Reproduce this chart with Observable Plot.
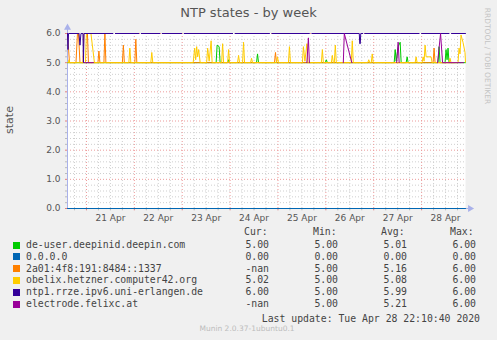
<!DOCTYPE html>
<html><head><meta charset="utf-8">
<script src="https://cdn.jsdelivr.net/npm/d3@7"></script>
<script src="https://cdn.jsdelivr.net/npm/@observablehq/plot@0.6"></script>
<style>
html,body{margin:0;padding:0;}
body{background:#f0f0f0;width:497px;height:340px;overflow:hidden;position:relative;font-family:"DejaVu Sans",sans-serif;}
#chart{position:absolute;left:0;top:0;}
.t{position:absolute;white-space:pre;line-height:12px;}
.mono{font-family:"DejaVu Sans Mono",monospace;font-size:9.8px;color:#444;}
.sw{position:absolute;width:7px;height:7px;}
</style></head><body>
<div id="chart"></div>
<script>
// ---------- text ----------
const title = "NTP states - by week";
const yLabel = "state";
const sideText = "RRDTOOL / TOBI OETIKER";
const lastUpdate = "Last update: Tue Apr 28 22:10:40 2020";
const footer = "Munin 2.0.37-1ubuntu0.1";

// ---------- axes ----------
// time is given in hours relative to 2020-04-21 00:00 (UTC used throughout)
const xStartHour = -9.5, xEndHour = 190;
const dayLabels = ["21 Apr","22 Apr","23 Apr","24 Apr","25 Apr","26 Apr","27 Apr","28 Apr"];
const yTicks = [0,1,2,3,4,5,6];

// ---------- series (hour, value); null = no data ----------
const seriesNames = ["de-user.deepinid.deepin.com","0.0.0.0","2a01:4f8:191:8484::1337","obelix.hetzner.computer42.org","ntp1.rrze.ipv6.uni-erlangen.de","electrode.felixc.at"];
const seriesColors = ["#00CC00","#0066B3","#FF8000","#FFCC00","#330099","#990099"];
const curVals = ["5.00","0.00","-nan","5.02","6.00","-nan"];
const minVals = ["5.00","0.00","5.00","5.00","5.00","5.00"];
const avgVals = ["5.01","0.00","5.16","5.08","5.99","5.21"];
const maxVals = ["6.00","0.00","6.00","6.00","6.00","6.00"];

const deUser = [[-9.5,5],[65,5],[65.5,5.6],[66.5,5.55],[67,5],[70.75,5],[71.25,5.1],[71.75,5],[85.25,5],[85.75,5.3],[86.25,5],[119.75,5],[120.25,5.1],[120.75,5],[154.25,5],[154.75,5.45],[155.25,5.05],[156.25,5.55],[157.25,5.7],[157.75,5],[160.25,5],[160.75,5.2],[161.25,5],[176.25,5],[176.75,5.55],[177.25,5],[179.75,5],[180.25,5.45],[180.75,5.1],[181.25,5.5],[181.75,5],[190,5]];
const zeroAddr = [[-9.5,0],[190,0]];
const addr2a01 = [[-9.5,6],[-9,5.5],[-8.5,5],[-5.25,5],[-4.5,6],[-4,6],[-3.25,5],[-1.75,5],[-1.25,6],[0.5,6],[1,5],[5.75,5],[6.25,5.4],[6.75,5],[8.75,5],[9.25,6],[9.75,5],[18,5],[18.5,5.6],[19,5],[24.25,5],[24.75,5.8],[25.25,5],[94.25,5],[94.75,5.35],[95.25,5],[173.75,5],[174.25,5.5],[174.75,5],[184,5]];
const obelix = [[-9.5,5],[-9,5],[-8.75,5.1],[-8.5,5],[-0.5,5],[0,6],[2.25,6],[4,5],[21.25,5],[21.75,5.5],[22.25,5],[32.25,5],[32.75,5.35],[33.25,5],[53.5,5],[54.25,5.5],[54.75,5.1],[55.25,5.55],[55.75,5.2],[56.25,5.45],[57,5],[60.25,5],[60.75,5.5],[61.5,5.05],[62.5,5.75],[63,5],[67.75,5],[68.25,5.65],[68.75,5],[70.75,5],[71.25,5.45],[71.75,5],[75.75,5],[76.25,5.25],[76.75,5],[78.25,5],[78.75,5.7],[79.25,5],[82.25,5],[82.75,5.15],[83.25,5],[95.25,5],[95.75,5.2],[96.25,5],[101.25,5],[101.75,5.55],[102.25,5],[108.25,5],[108.75,5.55],[109.5,5.05],[110.5,5.65],[111,5],[117.75,5],[118.25,5.45],[118.75,5],[122.75,5],[123.25,5.25],[123.75,5],[124.25,5],[124.75,5.6],[125.25,5],[132.75,5],[133.25,5.75],[133.75,5],[141,5],[141.5,5.1],[142,5],[142.75,5],[143.25,5.3],[143.75,5],[164.75,5],[165.25,5.2],[165.75,5],[168.25,5],[168.75,5.2],[169.25,5.05],[169.75,5.6],[170.25,5.2],[172.75,5.2],[173.25,5],[181.75,5],[182.25,5.15],[182.75,5],[186.25,5],[186.75,5.5],[187.25,5.3],[187.75,5.95],[188.75,5.7],[189.75,5.35],[190,5.02]];
const ntp1 = [[-9.5,6],[-9.25,5.45],[-9,6],[-3.75,6],[-3.25,5.6],[-2.75,6],[-1.75,6],[-1.5,5],[-1.25,6],[13.25,6],[13.75,null],[14.5,6],[26.25,6],[26.75,null],[27.5,6],[36.75,6],[37.25,null],[38,6],[47.75,6],[48.25,null],[49,6],[73.25,6],[73.75,null],[74.5,6],[91.75,6],[92.25,null],[93,6],[111.75,6],[112.25,null],[113,6],[136.75,6],[137,5.65],[137.25,5.65],[137.5,6],[138.5,6],[138.75,null],[139.5,6],[166.75,6],[167.25,null],[168,6],[181.75,6],[182.25,null],[183,6],[190,6]];
const electrode = [[-1.25,5],[3.5,5],[3.75,null],[110.5,5],[111.25,5.85],[111.75,5],[112.25,null],[128.75,5],[129.25,6],[133,5],[133.5,null],[155.5,5],[156.25,5.7],[156.75,5],[157.25,null],[176,5],[177.5,6],[178.5,5],[189,5],[189.5,null]];
const seriesData = [deUser, zeroAddr, addr2a01, obelix, ntp1, electrode];

// ---------- drawing ----------
const H0 = Date.UTC(2020,3,21,0,0);
const toDate = h => new Date(H0 + h*3600e3);
const xStart = toDate(xStartHour), xEnd = toDate(xEndHour);
const majorX = d3.range(0, 8).map(d => toDate(d*24));
const minorX = d3.range(-6, 190, 6).filter(h => h % 24 !== 0 && h > xStartHour).map(toDate);
const labelX = dayLabels.map((_, i) => toDate(i*24 + 12));
const minorY = d3.range(1, 30).map(d => d/5).filter(v => Math.abs(v - Math.round(v)) > 1e-6);
const axisCol = "#a9b1ea";

const marks = [
  Plot.frame({fill: "white", stroke: "none"}),
  Plot.ruleY(minorY, {x1: xStart, x2: xEnd, stroke: "#cfcfcf", strokeDasharray: "1,2"}),
  Plot.ruleX(minorX, {y1: 0, y2: 6, stroke: "#cfcfcf", strokeDasharray: "1,2"}),
  Plot.ruleY(yTicks, {x1: xStart, x2: xEnd, stroke: "#ec9a9a", strokeDasharray: "1,2"}),
  Plot.ruleX(majorX, {y1: 0, y2: 6, stroke: "#ec9a9a", strokeDasharray: "1,2"}),
  // axis tick marks
  Plot.ruleX(minorX, {y1: 0, y2: -0.08, stroke: "#bbbbbb"}),
  Plot.ruleX(majorX, {y1: 0, y2: -0.08, stroke: "#e08080"}),
  Plot.ruleY(minorY, {x1: toDate(xStartHour - 1), x2: xStart, stroke: "#bbbbbb"}),
  Plot.ruleY(yTicks, {x1: toDate(xStartHour - 1), x2: xStart, stroke: "#e08080"}),
  // axis lines and arrows
  Plot.ruleX([xStart], {y1: 0, y2: 6.15, stroke: axisCol}),
  Plot.ruleY([0], {x1: xStart, x2: toDate(xEndHour + 1.5), stroke: axisCol}),
  Plot.dot([0], {x: () => xStart, y: () => 6.2, symbol: "triangle", r: 2.6, fill: axisCol, stroke: "none"}),
  Plot.dot([0], {x: () => toDate(xEndHour + 2.3), y: () => 0, symbol: "triangle", r: 2.6, rotate: 90, fill: axisCol, stroke: "none"}),
  // tick labels
  Plot.text(yTicks, {x: () => xStart, y: d => d, text: d => d.toFixed(1), dx: -7, textAnchor: "end", fill: "#555", fontSize: 9}),
  Plot.text(dayLabels, {x: (d, i) => labelX[i], y: () => 0, text: d => d, dy: 10, fill: "#555", fontSize: 9})
];
seriesData.forEach((s, i) => {
  marks.push(Plot.line(s, {x: d => toDate(d[0]), y: d => d[1], stroke: seriesColors[i], strokeWidth: 1}));
});

const chart = Plot.plot({
  width: 497, height: 228,
  marginLeft: 67, marginRight: 32, marginTop: 33, marginBottom: 20,
  x: {type: "utc", domain: [xStart, xEnd], axis: null},
  y: {domain: [0, 6], axis: null},
  style: {background: "transparent", fontFamily: "DejaVu Sans", overflow: "visible"},
  marks
});
document.getElementById("chart").appendChild(chart);

// ---------- html texts ----------
function addText(txt, css, cls) {
  const d = document.createElement("div");
  d.className = "t" + (cls ? " " + cls : "");
  d.textContent = txt;
  Object.assign(d.style, css);
  document.body.appendChild(d);
  return d;
}
addText(title, {left: "0px", width: "497px", textAlign: "center", top: "5px", fontSize: "13px", color: "#555", lineHeight: "16px"});
addText(yLabel, {left: "10px", top: "120px", fontSize: "11px", color: "#555", transform: "translate(-50%,-50%) rotate(-90deg)", lineHeight: "12px"});
addText(sideText, {left: "487px", top: "56px", fontSize: "7.5px", color: "#c4c4c4", transform: "translate(-50%,-50%) rotate(90deg)", lineHeight: "9px"});

const rowY0 = 245, rowStep = 11.8;
const valRight = [269, 338, 407, 476];
const headLeft = [244, 313, 381, 450];
["Cur:","Min:","Avg:","Max:"].forEach((h, j) => addText(h, {left: headLeft[j] + "px", top: (232 - 6) + "px"}, "mono"));
seriesNames.forEach((n, i) => {
  const cy = rowY0 + i*rowStep;
  const sw = document.createElement("div");
  sw.className = "sw";
  Object.assign(sw.style, {left: "13px", top: (cy - 3.5) + "px", background: seriesColors[i]});
  document.body.appendChild(sw);
  addText(n, {left: "26px", top: (cy - 6) + "px"}, "mono");
  [curVals[i], minVals[i], avgVals[i], maxVals[i]].forEach((v, j) => {
    addText(v, {left: (valRight[j] - 60) + "px", width: "60px", textAlign: "right", top: (cy - 6) + "px"}, "mono");
  });
});
addText(lastUpdate, {left: "200px", width: "280px", textAlign: "right", top: (319 - 6) + "px"}, "mono");
addText(footer, {left: "0px", width: "494px", textAlign: "center", top: (329 - 5) + "px", fontSize: "7.5px", color: "#bcbcbc", lineHeight: "10px"});
</script>
</body></html>
